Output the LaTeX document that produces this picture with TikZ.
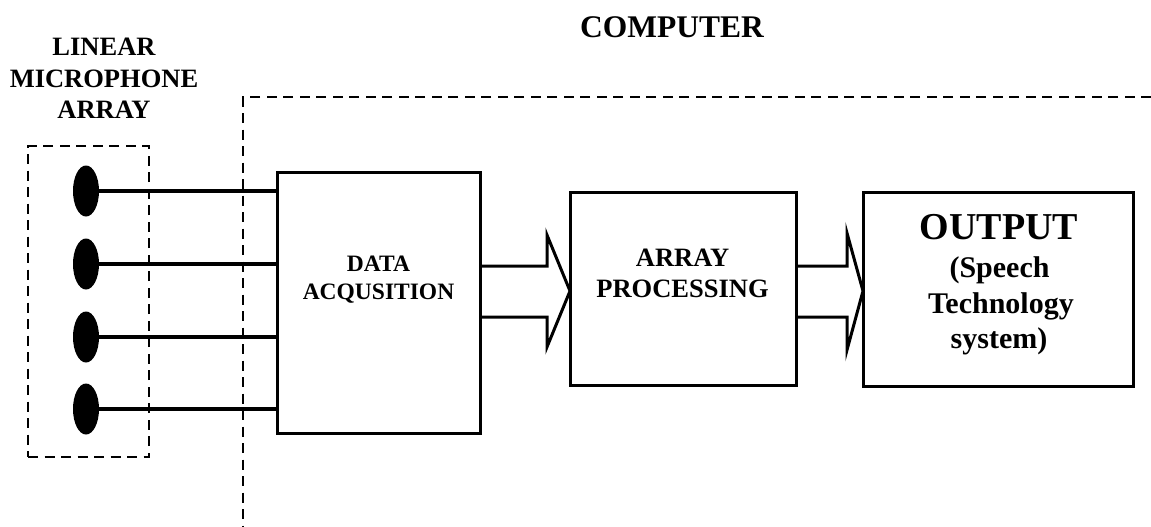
\documentclass[tikz,border=0pt]{standalone}
\usepackage{fontspec}
\setmainfont{Liberation Serif}
\usetikzlibrary{shapes.geometric}
\begin{document}
\begin{tikzpicture}[x=1pt,y=-1pt,
  box/.style={draw, rectangle, line width=3pt, inner sep=0pt, outer sep=0pt},
  txt/.style={font=\bfseries, anchor=base, inner sep=0pt},
  mic/.style={ellipse, fill=black, minimum width=26pt, minimum height=51pt, inner sep=0pt},
  wire/.style={line width=4.5pt},
  hollow/.style={line width=3pt, line join=miter},
  dashline/.style={line width=2.5pt, dash pattern=on 10pt off 6.5pt}]
\useasboundingbox (0,0) rectangle (1151,527);

% titles
\node[txt, font=\bfseries\fontsize{26.5}{30}\selectfont] (t1) at (104,56) {LINEAR};
\node[txt, font=\bfseries\fontsize{26.5}{30}\selectfont] (t2) at (104,88) {MICROPHONE};
\node[txt, font=\bfseries\fontsize{26.5}{30}\selectfont] (t3) at (104,118) {ARRAY};
\node[txt, font=\bfseries\fontsize{31.5}{36}\selectfont] (t4) at (672,38) {COMPUTER};

% computer boundary (open on the right and at the bottom)
\coordinate (cpuR) at (1151,97);
\coordinate (cpu) at (243,97);
\coordinate (cpuB) at (243,527);
\draw[dashline] (cpuR) -- (cpu) -- (cpuB);

% microphone array enclosure
\node[draw, dashline, rectangle, inner sep=0pt, minimum width=121pt, minimum height=311pt] (arr) at (88.5,301.5) {};

% processing blocks
\node[box, minimum width=203pt, minimum height=261pt] (daq) at (378.5,302.5) {};
\node[box, minimum width=226pt, minimum height=193pt] (ap) at (683,288.5) {};
\node[box, minimum width=270pt, minimum height=194pt] (out) at (998,289) {};

% block labels
\node[txt, font=\bfseries\fontsize{23.5}{28}\selectfont] (d1) at (378.5,271) {DATA};
\node[txt, font=\bfseries\fontsize{23.5}{28}\selectfont] (d2) at (378.5,299) {ACQUSITION};
\node[txt, font=\bfseries\fontsize{26.5}{30}\selectfont] (a1) at (682.5,266) {ARRAY};
\node[txt, font=\bfseries\fontsize{26.5}{30}\selectfont] (a2) at (682.5,297) {PROCESSING};
\node[txt, font=\bfseries\fontsize{38}{44}\selectfont] (o1) at (999,239) {OUTPUT};
\node[txt, font=\bfseries\fontsize{30}{35}\selectfont] (o2) at (999.5,277) {(Speech};
\node[txt, font=\bfseries\fontsize{30}{35}\selectfont] (o3) at (1001,313) {Technology};
\node[txt, font=\bfseries\fontsize{30}{35}\selectfont] (o4) at (999,348) {system)};

% microphones and their wires
\foreach \i/\y in {1/191,2/264,3/337,4/409}{
  \node[mic] (m\i) at (86,\y) {};
  \draw[wire] (m\i.center) -- (m\i.center -| daq.west);
}

% hollow block arrows
\draw[hollow] (daq.east |- 0,266) -- (547,266) -- (547,235) -- (ap.west |- 0,291)
  -- (547,347) -- (547,317) -- (daq.east |- 0,317);
\draw[hollow] (ap.east |- 0,266) -- (847,266) -- (847,233) -- (out.west |- 0,291)
  -- (847,350) -- (847,317) -- (ap.east |- 0,317);
\end{tikzpicture}
\end{document}
